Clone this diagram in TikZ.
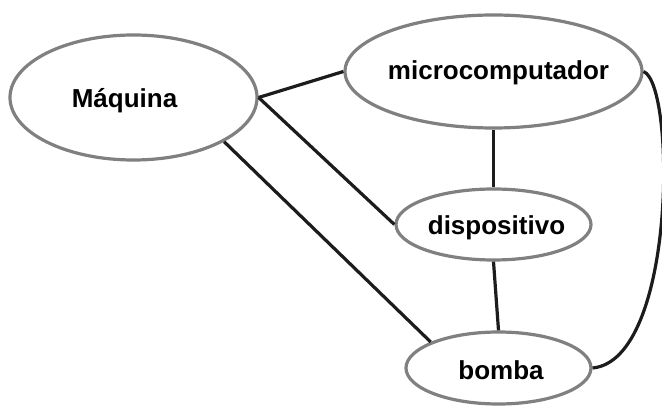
\documentclass[tikz,border=0pt]{standalone}
\usepackage{fontspec}
\setmainfont{Liberation Sans}
\usetikzlibrary{shapes.geometric}
\definecolor{rim}{RGB}{128,128,128}
\definecolor{ink}{RGB}{28,28,28}
\begin{document}
\begin{tikzpicture}[x=1pt,y=-1pt,
  oval/.style={ellipse, draw=rim, line width=3.2pt, fill=white, inner sep=0pt},
  word/.style={anchor=base, inner sep=0pt, font=\fontsize{26}{30}\selectfont\bfseries, text=black},
  link/.style={draw=ink, line width=3.2pt}]
\useasboundingbox (0,0) rectangle (662,409);

% entity ellipses
\node[oval, minimum width=247, minimum height=125] (maq) at (133.5,97.5) {};
\node[oval, minimum width=297, minimum height=113] (mic) at (493.5,71.5) {};
\node[oval, minimum width=195, minimum height=71]  (dis) at (493.5,224.5) {};
\node[oval, minimum width=185, minimum height=72]  (bom) at (498.5,368) {};

% captions
\node[word] (maqT) at (124.5,107.5) {Máquina};
\node[word] (micT) at (498.5,79.5) {microcomputador};
\node[word] (disT) at (496.5,234.5) {dispositivo};
\node[word] (bomT) at (501,379.5) {bomba};

% relations
\draw[link] (maq.east) -- (mic.west);
\draw[link] (maq.east) -- (dis.west);
\draw[link] (maq.-26) -- (bom.159);
\draw[link] (mic.south) -- (dis.north);
\draw[link] (dis.south) -- (bom.north);
\draw[link] (mic.east) .. controls (676,85) and (676,360) .. (bom.east);
\end{tikzpicture}
\end{document}
